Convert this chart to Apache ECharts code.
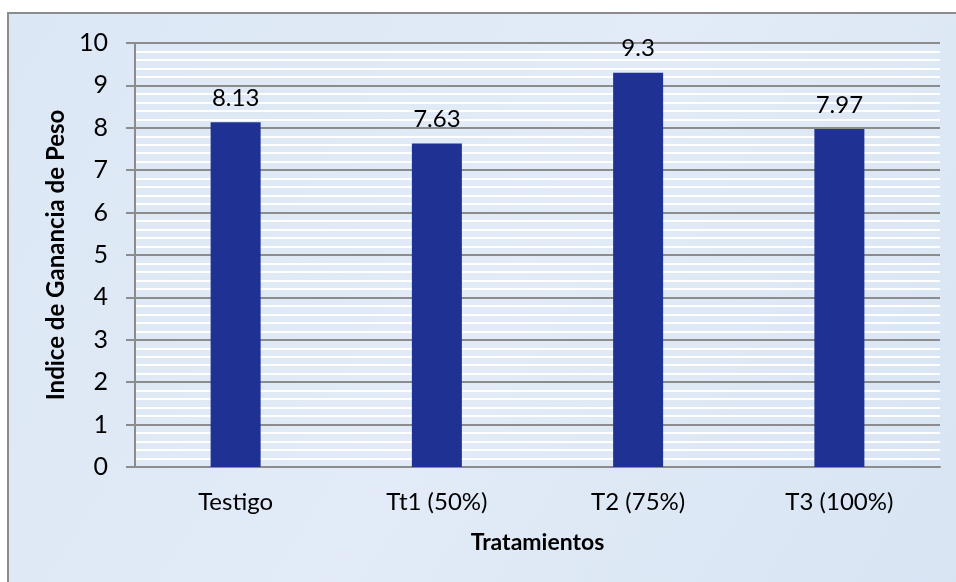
<!DOCTYPE html>
<html>
<head>
<meta charset="utf-8">
<script src="https://cdn.jsdelivr.net/npm/echarts@6/dist/echarts.min.js"></script>
<style>
  html, body { margin: 0; padding: 0; background: #ffffff; }
  #chart { width: 956px; height: 582px; }
</style>
</head>
<body>
<div id="chart"></div>
<script>
// Treatments and their weight-gain index
const categories = ['Testigo', 'Tt1 (50%)', 'T2 (75%)', 'T3 (100%)'];
const gainIndex = [8.13, 7.63, 9.3, 7.97];
const yTicks = [0, 1, 2, 3, 4, 5, 6, 7, 8, 9, 10];

const FONT = 'Lato, "Open Sans", sans-serif';
const chart = echarts.init(document.getElementById('chart'), null, { renderer: 'canvas' });

chart.setOption({
  animation: false,
  backgroundColor: '#ffffff',
  graphic: [
    {
      type: 'rect',
      z: -10,
      silent: true,
      shape: { x: 8, y: 13, width: 970, height: 600 },
      style: {
        fill: new echarts.graphic.LinearGradient(0, 0, 1, 1, [
          { offset: 0, color: '#dce7f5' },
          { offset: 0.5, color: '#e2ebf7' },
          { offset: 1, color: '#d8e4f3' }
        ]),
        stroke: '#8c8c8c',
        lineWidth: 2
      }
    }
  ],
  grid: { left: 135, right: 16, top: 43, bottom: 115 },
  xAxis: {
    type: 'category',
    data: categories,
    name: 'Tratamientos',
    nameLocation: 'middle',
    nameGap: 64,
    nameTextStyle: { fontFamily: FONT, fontWeight: 'bold', fontSize: 23, color: '#000' },
    axisLine: { show: true, lineStyle: { color: '#8c8c8c', width: 2 } },
    axisTick: { show: false },
    axisLabel: { fontFamily: FONT, fontSize: 24, color: '#000', margin: 23 },
    splitLine: { show: false }
  },
  yAxis: {
    type: 'value',
    min: yTicks[0],
    max: yTicks[yTicks.length - 1],
    interval: 1,
    name: 'Indice de Ganancia de Peso',
    nameLocation: 'middle',
    nameRotate: 90,
    nameGap: 63,
    nameTextStyle: { fontFamily: FONT, fontWeight: 'bold', fontSize: 24, color: '#000' },
    axisLine: { show: true, lineStyle: { color: '#8c8c8c', width: 2 } },
    axisTick: { show: true, length: 9, lineStyle: { color: '#8c8c8c', width: 2 } },
    axisLabel: { fontFamily: FONT, fontSize: 25, color: '#000', margin: 27 },
    splitLine: { show: true, lineStyle: { color: '#8c8c8c', width: 2 } },
    minorTick: { show: false, splitNumber: 5 },
    minorSplitLine: { show: true, lineStyle: { color: '#ffffff', width: 2 } }
  },
  series: [
    {
      type: 'bar',
      data: gainIndex,
      barWidth: 50,
      itemStyle: { color: '#1f3293' },
      label: {
        show: true,
        position: 'top',
        distance: 12,
        fontFamily: FONT,
        fontSize: 24,
        color: '#000'
      }
    }
  ]
});
</script>
</body>
</html>
